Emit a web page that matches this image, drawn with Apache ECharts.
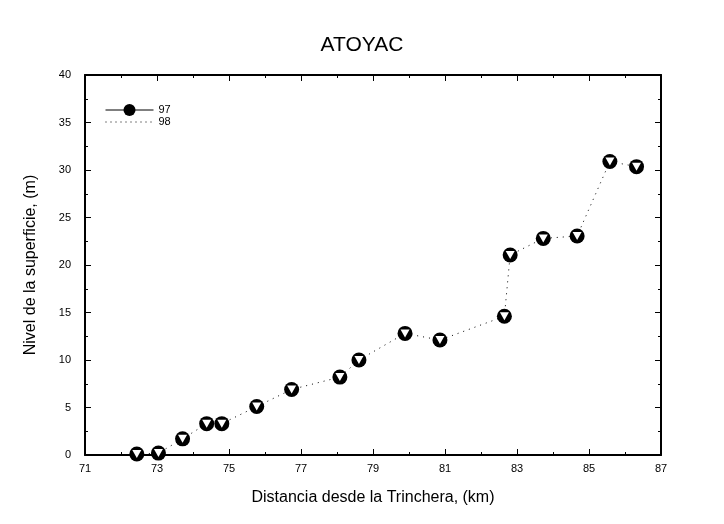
<!DOCTYPE html>
<html>
<head>
<meta charset="utf-8">
<script src="https://cdn.jsdelivr.net/npm/echarts@6/dist/echarts.min.js"></script>
<style>
  html, body { margin: 0; padding: 0; background: #fff; }
  #main { width: 724px; height: 524px; }
</style>
</head>
<body>
<div id="main"></div>
<script>
// distancia desde la trinchera (km) y nivel (m)
var distancia = [72.44, 73.04, 73.71, 74.38, 74.80, 75.77, 76.74, 78.08, 78.61, 79.89, 80.86, 82.65, 82.81, 83.73, 84.67, 85.58, 86.32];
var nivel97   = [0.1, 0.2, 1.7, 3.3, 3.3, 5.1, 6.9, 8.2, 10.0, 12.8, 12.1, 14.6, 21.05, 22.8, 23.05, 30.9, 30.35];
var nivel98   = [0.1, 0.2, 1.7, 3.3, 3.3, 5.1, 6.9, 8.2, 10.0, 12.8, 12.1, 14.6, 21.05, 22.8, 23.05, 30.9, 30.35];
var xTicks = [71, 73, 75, 77, 79, 81, 83, 85, 87];
var yTicks = [0, 5, 10, 15, 20, 25, 30, 35, 40];

function pares(xs, ys) {
  return xs.map(function (x, i) { return [x, ys[i]]; });
}

var font = 'Liberation Sans, Arial, sans-serif';
var ejeBase = {
  axisLine: { show: true, onZero: false, lineStyle: { color: '#000', width: 2 } },
  axisTick: { show: true, inside: true, length: 6, lineStyle: { color: '#000', width: 1 } },
  minorTick: { show: true, splitNumber: 2, length: 3, lineStyle: { color: '#000' } },
  splitLine: { show: false },
  axisLabel: { color: '#000', fontSize: 11, fontFamily: font }
};

var myChart = echarts.init(document.getElementById('main'));
myChart.setOption({
  animation: false,
  backgroundColor: '#fff',
  title: {
    text: 'ATOYAC', left: 'center', top: 30,
    textStyle: { color: '#000', fontSize: 21, fontWeight: 'normal', fontFamily: font }
  },
  legend: {
    left: 100, top: 99, orient: 'vertical', itemGap: 0,
    itemWidth: 48, itemHeight: 15,
    textStyle: { color: '#000', fontSize: 11, fontFamily: font },
    data: [
      { name: '97', lineStyle: { color: '#000', width: 1, type: 'solid', opacity: 1 } },
      { name: '98', itemStyle: { opacity: 0 }, lineStyle: { color: '#000', width: 1, type: [1, 4], opacity: 1 } }
    ]
  },
  grid: { left: 85, right: 63, top: 75, bottom: 69 },
  xAxis: [
    Object.assign({}, ejeBase, {
      type: 'value', min: 71, max: 87, interval: 2,
      name: 'Distancia desde la Trinchera, (km)', nameLocation: 'middle', nameGap: 35,
      nameTextStyle: { color: '#000', fontSize: 16, fontFamily: font },
      axisLabel: Object.assign({}, ejeBase.axisLabel, {
        customValues: xTicks
      })
    }),
    Object.assign({}, ejeBase, {
      type: 'value', min: 71, max: 87, interval: 2, position: 'top',
      axisLabel: { show: false }
    })
  ],
  yAxis: [
    Object.assign({}, ejeBase, {
      type: 'value', min: 0, max: 40, interval: 5,
      name: 'Nivel de la superficie, (m)', nameLocation: 'middle', nameGap: 46,
      nameTextStyle: { color: '#000', fontSize: 16, fontFamily: font },
      axisLabel: Object.assign({}, ejeBase.axisLabel, { customValues: yTicks, margin: 14 })
    }),
    Object.assign({}, ejeBase, {
      type: 'value', min: 0, max: 40, interval: 5, position: 'right',
      axisLabel: { show: false }
    })
  ],
  series: [
    {
      name: '97', type: 'line', data: pares(distancia, nivel97),
      symbol: 'circle', symbolSize: 15,
      itemStyle: { color: '#000' },
      lineStyle: { opacity: 0 },
      z: 2
    },
    {
      name: '98', type: 'line', data: pares(distancia, nivel98),
      symbol: 'triangle', symbolSize: [9, 8], symbolRotate: 180,
      itemStyle: { color: '#fff', borderWidth: 0 },
      lineStyle: { color: '#000', width: 1, type: [1, 5] },
      z: 3
    }
  ]
});
</script>
</body>
</html>
